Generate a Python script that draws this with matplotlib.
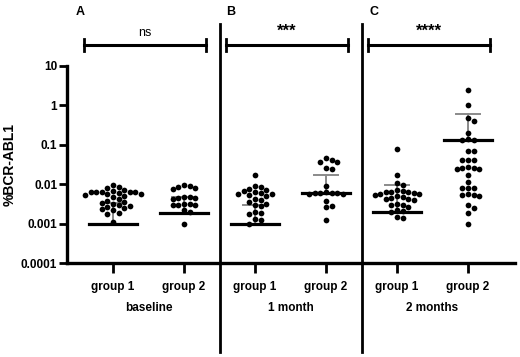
import numpy as np
import matplotlib
matplotlib.use("Agg")
import matplotlib.pyplot as plt
from matplotlib.transforms import blended_transform_factory

plt.rcParams['font.family'] = ['Liberation Sans', 'DejaVu Sans']

# ---- data ----
tick_labels = ["group 1", "group 2", "group 1", "group 2", "group 1", "group 2"]
timepoints = ["baseline", "1 month", "2 months"]
panel_letters = ["A", "B", "C"]
significance = ["ns", "***", "****"]
y_ticks = [0.0001, 0.001, 0.01, 0.1, 1, 10]
y_tick_labels = ["0.0001", "0.001", "0.01", "0.1", "1", "10"]

baseline_g1 = [0.0097, 0.0085, 0.0078, 0.0072, 0.0066, 0.0062, 0.0062, 0.0062,
               0.0062, 0.0062, 0.0060, 0.0058, 0.0056, 0.0053, 0.0050, 0.0046,
               0.0042, 0.0038, 0.0035, 0.0034, 0.0032, 0.0030, 0.0028, 0.0027,
               0.0025, 0.0024, 0.0022, 0.0019, 0.0018, 0.0011]
baseline_g2 = [0.0097, 0.0090, 0.0085, 0.0080, 0.0075, 0.0048, 0.0046, 0.0045,
               0.0044, 0.0042, 0.0032, 0.0031, 0.0030, 0.0030, 0.0029, 0.0022,
               0.0020, 0.00096]
month1_g1 = [0.0174, 0.0091, 0.0085, 0.0075, 0.0070, 0.0068, 0.0065, 0.0060,
             0.0057, 0.0055, 0.0052, 0.0050, 0.0042, 0.0040, 0.0036, 0.0032,
             0.0030, 0.0028, 0.0020, 0.0019, 0.0018, 0.0013, 0.0012, 0.0010]
month1_g2 = [0.045, 0.040, 0.037, 0.036, 0.026, 0.024, 0.0091, 0.0065, 0.0060,
             0.0060, 0.0060, 0.0060, 0.0058, 0.0055, 0.0038, 0.0028, 0.0026,
             0.0012]
month2_g1 = [0.079, 0.017, 0.0105, 0.0095, 0.0070, 0.0066, 0.0064, 0.0062,
             0.0062, 0.0060, 0.0058, 0.0056, 0.0054, 0.0050, 0.0046, 0.0045,
             0.0043, 0.0042, 0.0040, 0.0032, 0.0030, 0.0029, 0.0027, 0.0022,
             0.0021, 0.0020, 0.0015, 0.0014]
month2_g2 = [2.5, 1.05, 0.49, 0.41, 0.2, 0.14, 0.135, 0.13, 0.071, 0.070,
             0.042, 0.041, 0.040, 0.027, 0.026, 0.025, 0.026, 0.024, 0.017,
             0.0115, 0.0082, 0.0080, 0.0078, 0.0056, 0.0054, 0.0052, 0.0050,
             0.0030, 0.0025, 0.0019, 0.0010]
groups = [baseline_g1, baseline_g2, month1_g1, month1_g2, month2_g1, month2_g2]
center_lines = [0.001, 0.0019, 0.001, 0.006, 0.002, 0.135]   # black horizontal lines
upper_bars = [0.0034, 0.0048, 0.003, 0.017, 0.0097, 0.59]     # gray error bar tops

# ---- figure ----
W, H = 520, 357
fig = plt.figure(figsize=(W / 100, H / 100), dpi=100)
ax = fig.add_axes([67 / W, 1 - 263 / H, (515 - 67) / W, (263 - 66) / H])
ax.set_yscale('log')
ax.set_ylim(1e-4, 10)
px_per_unit = 71.0
ax.set_xlim(1 - 46 / px_per_unit, 1 + (515 - 113) / px_per_unit)
px_per_dec = (263 - 66) / 5.0


def px_to_x(px):
    return 1 + (px - 113) / px_per_unit


def swarm(values, d=5.6):
    ys = (np.log10(values) + 4) * px_per_dec
    order = np.argsort(-ys)
    placed = []
    xs = np.zeros(len(ys))
    for i in order:
        y = ys[i]
        cands = [0.0]
        for k in range(1, 14):
            cands += [k * d, -k * d]
        for c in cands:
            if all((c - px) ** 2 + (y - py) ** 2 >= (d * 0.97) ** 2 for px, py in placed):
                xs[i] = c
                placed.append((c, y))
                break
    return xs / px_per_unit


for i, vals in enumerate(groups):
    xc = i + 1
    xs = swarm(np.array(vals)) + xc
    ax.scatter(xs, vals, s=17, color='black', zorder=3, linewidths=0)
    # gray error bar
    ax.plot([xc, xc], [center_lines[i], upper_bars[i]], color='#8a8a8a', lw=1.4, zorder=2)
    ax.plot([xc - 12 / px_per_unit, xc + 12 / px_per_unit], [upper_bars[i]] * 2,
            color='#8a8a8a', lw=1.4, zorder=2)
    # black line
    ax.plot([xc - 24 / px_per_unit, xc + 24 / px_per_unit], [center_lines[i]] * 2,
            color='black', lw=2.3, zorder=4)

ax.spines['top'].set_visible(False)
ax.spines['right'].set_visible(False)
ax.spines['left'].set_linewidth(2.4)
ax.spines['bottom'].set_linewidth(2.4)
ax.set_yticks(y_ticks)
ax.set_yticklabels(y_tick_labels, fontsize=8.5, fontweight='bold')
ax.yaxis.set_minor_locator(matplotlib.ticker.NullLocator())
ax.tick_params(axis='y', length=6, width=2, pad=1)
ax.set_xticks(range(1, 7))
ax.set_xticklabels(tick_labels, fontsize=8.5, fontweight='bold')
ax.tick_params(axis='x', length=7, width=2, pad=6)
ax.set_ylabel("%BCR-ABL1", fontsize=10, fontweight='bold', labelpad=3)

tr_fig_y = blended_transform_factory(ax.transData, fig.transFigure)
for xb in [2.5, 4.5]:
    ax.plot([xb, xb], [1 - 352 / H, 1 - 24 / H], transform=tr_fig_y, color='black',
            lw=2.0, clip_on=False)

letter_px = [80, 231, 374]
for j, name in enumerate(timepoints):
    xc = 1.5 + 2 * j
    ax.text(xc, 1 - 308 / H, name, transform=tr_fig_y, ha='center', va='center',
            fontsize=8.5, fontweight='bold')
    # bracket
    x0 = xc - 0.91
    x1 = xc + 0.81
    yb = 1 - 45 / H
    ax.plot([x0, x1], [yb, yb], transform=tr_fig_y, color='black', lw=2.2, clip_on=False)
    for xx in (x0, x1):
        ax.plot([xx, xx], [yb - 6 / H, yb + 6 / H], transform=tr_fig_y, color='black',
                lw=2.0, clip_on=False)
    sig = significance[j]
    ax.text((x0 + x1) / 2, 1 - (33 if sig == 'ns' else 31) / H, sig, transform=tr_fig_y,
            ha='center', va='center', fontsize=9 if sig == 'ns' else 12,
            fontweight='normal' if sig == 'ns' else 'bold')
    ax.text(px_to_x(letter_px[j]), 1 - 12 / H, panel_letters[j], transform=tr_fig_y,
            ha='center', va='center', fontsize=9, fontweight='bold')

fig.savefig("out.png", dpi=100)
